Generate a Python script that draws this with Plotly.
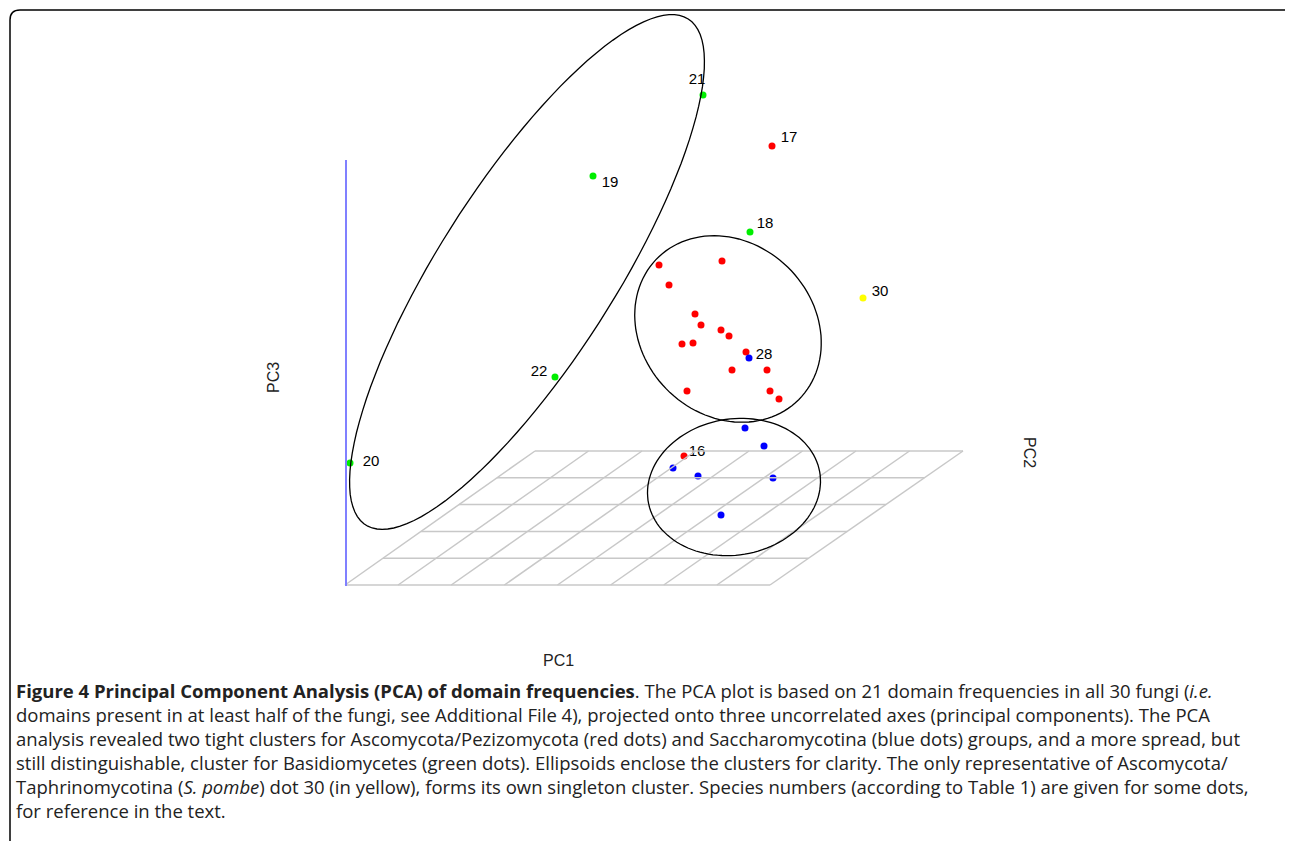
import numpy as np
import plotly.graph_objects as go

# screen-projected PCA positions (x right, y down)
green_x = [703, 593, 750, 555, 350]
green_y = [95, 176, 232, 377, 463]
red_x = [772, 659, 722, 669, 695, 701, 721, 729, 682, 693, 746, 732, 767, 687, 770, 779, 684]
red_y = [146, 265, 261, 285, 314, 325, 330, 336, 344, 343, 352, 370, 370, 391, 391, 399, 456]
blue_x = [749, 745, 764, 673, 698, 773, 721]
blue_y = [358, 428, 446, 468, 476, 478, 515]
yellow_x = [863]
yellow_y = [298]

label_text = ["21", "17", "19", "18", "30", "28", "22", "16", "20"]
label_x = [697, 789, 610, 765, 880, 764, 539, 697, 371]
label_y = [80, 138, 183, 224, 292, 355, 372, 452, 462]

fig = go.Figure()
for xs, ys, c in [(green_x, green_y, "#00ee00"), (red_x, red_y, "#ff0000"),
                  (blue_x, blue_y, "#0000ff"), (yellow_x, yellow_y, "#ffff00")]:
    fig.add_trace(go.Scatter(x=xs, y=ys, mode="markers",
                             marker=dict(color=c, size=7, line=dict(width=0)),
                             showlegend=False))
fig.add_trace(go.Scatter(x=label_x, y=label_y, mode="text", text=label_text,
                         textfont=dict(family="Liberation Sans", size=15, color="black"),
                         showlegend=False))

shapes = []
# floor grid
tl, tr, bl, br = (535, 451), (963, 451), (345, 585), (770, 585)
for i in range(6):
    t = i / 5
    lx = tl[0] + (bl[0] - tl[0]) * t
    rx = tr[0] + (br[0] - tr[0]) * t
    y = 451 + 134 * t
    shapes.append(dict(type="line", x0=lx, x1=rx, y0=y, y1=y, line=dict(color="#c8c8c8", width=1.5)))
for i in range(9):
    t = i / 8
    shapes.append(dict(type="line", x0=tl[0] + (tr[0] - tl[0]) * t, y0=451,
                       x1=bl[0] + (br[0] - bl[0]) * t, y1=585, line=dict(color="#c8c8c8", width=1.5)))
shapes.append(dict(type="line", x0=346, x1=346, y0=160, y1=586, line=dict(color="#8080ff", width=2)))


def ellipse(cx, cy, a, b, ang):
    th = np.linspace(0, 2 * np.pi, 120)
    r = np.radians(ang)
    xs = cx + a * np.cos(th) * np.cos(r) - b * np.sin(th) * np.sin(r)
    ys = cy + a * np.cos(th) * np.sin(r) + b * np.sin(th) * np.cos(r)
    return "M " + " L ".join(f"{x:.1f},{y:.1f}" for x, y in zip(xs, ys)) + " Z"


for e in [(527, 272, 300, 88, -57.5), (728, 329, 100, 86, 45), (734, 487, 87, 68, -10)]:
    shapes.append(dict(type="path", path=ellipse(*e), line=dict(color="black", width=1.3)))
shapes.append(dict(type="path", path="M 1300,10 L 20,10 Q 10,10 10,20 L 10,860",
                   line=dict(color="black", width=1.5)))

ann = [
    dict(x=273, y=378, text="PC3", textangle=-90),
    dict(x=1030, y=452, text="PC2", textangle=90),
    dict(x=558, y=660, text="PC1"),
]
anns = [dict(a, showarrow=False, font=dict(family="Liberation Sans", size=16, color="#222")) for a in ann]

caption = [
    "<b>Figure 4 Principal Component Analysis (PCA) of domain frequencies</b>. The PCA plot is based on 21 domain frequencies in all 30 fungi (<i>i.e.</i>",
    "domains present in at least half of the fungi, see Additional File 4), projected onto three uncorrelated axes (principal components). The PCA",
    "analysis revealed two tight clusters for Ascomycota/Pezizomycota (red dots) and Saccharomycotina (blue dots) groups, and a more spread, but",
    "still distinguishable, cluster for Basidiomycetes (green dots). Ellipsoids enclose the clusters for clarity. The only representative of Ascomycota/",
    "Taphrinomycotina (<i>S. pombe</i>) dot 30 (in yellow), forms its own singleton cluster. Species numbers (according to Table 1) are given for some dots,",
    "for reference in the text.",
]
for i, line in enumerate(caption):
    anns.append(dict(x=14, y=690 + 24 * i, text=line, xanchor="left", showarrow=False,
                     font=dict(family="Open Sans", size=18.5, color="#222")))

# page body has an 8px margin, so shift the ranges to keep screen coordinates
fig.update_layout(
    width=1293, height=841, margin=dict(l=0, r=0, t=0, b=0),
    plot_bgcolor="white", paper_bgcolor="white",
    xaxis=dict(range=[8, 1301], visible=False),
    yaxis=dict(range=[849, 8], visible=False),
    shapes=shapes, annotations=anns,
)
fig.write_html("out.html")
